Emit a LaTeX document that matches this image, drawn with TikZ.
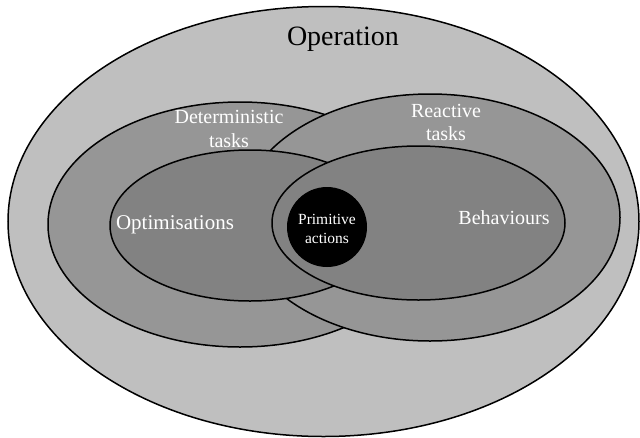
\documentclass[tikz,border=0pt]{standalone}
\usepackage{fontspec}
\setmainfont{Liberation Serif}
\usepackage{tkz-euclide}

\definecolor{opgray}{gray}{0.75}
\definecolor{taskgray}{gray}{0.59}
\definecolor{subgray}{gray}{0.51}

\tikzset{
  zone/.style={draw=black, line width=1.5pt},
  lbl/.style={text=white, align=center, inner sep=0pt, anchor=base},
}

\begin{document}
\begin{tikzpicture}[x=1pt,y=-1pt]
        \useasboundingbox (0,0) rectangle (640,437);
        \tkzDefPoints{323.5/221.5/O,240/224.5/D,430/217.5/R,250/225.5/P,418.5/223/B,327/227/A}
        % nested sets, back to front
        \draw[zone,fill=opgray] (O) ellipse [x radius=315.5pt, y radius=215pt];
        \draw[zone,fill=taskgray] (D) ellipse [x radius=192pt, y radius=122.5pt];
        \draw[zone,fill=taskgray] (R) ellipse [x radius=190pt, y radius=123.5pt];
        \draw[zone,fill=subgray] (P) ellipse [x radius=140pt, y radius=75.5pt];
        \draw[zone,fill=subgray] (B) ellipse [x radius=146.5pt, y radius=77pt];
        \fill[black] (A) circle [radius=40pt];
        % labels (base = last line)
        \node[inner sep=0pt, anchor=base, font=\fontsize{28}{30}\selectfont] (operation) at (343,45) {Operation};
        \node[lbl, font=\fontsize{20}{24}\selectfont] (dettasks) at (229,147) {Deterministic\\tasks};
        \node[lbl, font=\fontsize{20}{23}\selectfont] (reactasks) at (446,140) {Reactive\\tasks};
        \node[lbl, font=\fontsize{21}{24}\selectfont] (optim) at (175,229) {Optimisations};
        \node[lbl, font=\fontsize{20}{24}\selectfont] (behav) at (504,224) {Behaviours};
        \node[lbl, font=\fontsize{15.5}{18.5}\selectfont] (primact) at (327,243) {Primitive\\actions};
    \end{tikzpicture}
\end{document}
